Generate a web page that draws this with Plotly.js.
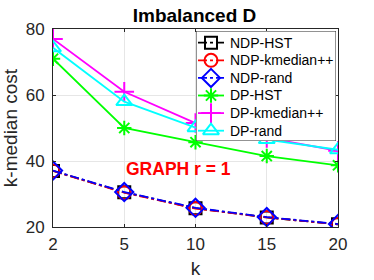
<!DOCTYPE html>
<html>
<head>
<meta charset="utf-8">
<script src="https://cdn.plot.ly/plotly-3.0.1.min.js"></script>
<style>html,body{margin:0;padding:0;background:#fff;}#chart{width:374px;height:280px;}</style>
</head>
<body>
<div id="chart"></div>
<script>
// Data
const kLabels = ['2', '5', '10', '15', '20'];
const ndpHst = [37.0, 30.5, 25.7, 22.9, 20.8];
const ndpKmedianpp = [37.0, 30.4, 25.6, 22.9, 20.8];
const ndpRand = [37.1, 30.6, 25.8, 23.0, 20.9];
const dpHst = [71.0, 50.0, 45.7, 41.5, 38.7];
const dpKmedianpp = [77.0, 61.0, 51.5, 47.0, 43.1];
const dpRand = [74.3, 58.0, 50.1, 46.5, 43.4];
const seriesNames = ['NDP-HST', 'NDP-kmedian++', 'NDP-rand', 'DP-HST', 'DP-kmedian++', 'DP-rand'];

const FONT = 'Liberation Sans, Arial, Helvetica, sans-serif';
const styles = [
  {c: '#000000', sym: 'square-open', dash: 'dashdot', size: 12},
  {c: '#ff0000', sym: 'circle-open', dash: 'dashdot', size: 13},
  {c: '#0000ff', sym: 'diamond-open', dash: 'dashdot', size: 14},
  {c: '#00ff00', sym: 'asterisk-open', dash: 'solid', size: 12},
  {c: '#ff00ff', sym: 'cross-thin-open', dash: 'solid', size: 14},
  {c: '#00ffff', sym: 'triangle-up-open', dash: 'solid', size: 14}
];
const values = [ndpHst, ndpKmedianpp, ndpRand, dpHst, dpKmedianpp, dpRand];

// Plot area geometry (pixels) used to place the hand-built legend box
const W = 374, H = 280, ML = 53, MR = 36, MT = 29, MB = 53;
const PW = W - ML - MR, PH = H - MT - MB;
const LG = {x0: 196, x1: 336, y0: 31, y1: 141, row0: 42.7, rowStep: 17.6, lineX0: 198, lineX1: 224, markX: 211, textX: 228};

const traces = values.map((v, i) => ({
  x: kLabels, y: v, name: seriesNames[i], type: 'scatter', mode: 'lines+markers',
  line: {color: styles[i].c, width: 1.8, dash: styles[i].dash},
  marker: {symbol: styles[i].sym, size: styles[i].size, color: styles[i].c, line: {color: styles[i].c, width: 2}},
  xaxis: 'x', yaxis: 'y', hoverinfo: 'skip'
}));

// legend box (on an overlay axis measured in pixels)
traces.push({
  x: [LG.x0, LG.x1, LG.x1, LG.x0, LG.x0], y: [LG.y0, LG.y0, LG.y1, LG.y1, LG.y0],
  xaxis: 'x2', yaxis: 'y2', type: 'scatter', mode: 'lines', fill: 'toself',
  fillcolor: '#ffffff', line: {color: '#262626', width: 1}, hoverinfo: 'skip', showlegend: false
});
const annotations = [];
seriesNames.forEach((name, i) => {
  const ry = LG.row0 + LG.rowStep * i;
  traces.push({
    x: [LG.lineX0, LG.lineX1], y: [ry, ry], xaxis: 'x2', yaxis: 'y2', type: 'scatter', mode: 'lines',
    line: {color: styles[i].c, width: 1.8, dash: styles[i].dash}, hoverinfo: 'skip', showlegend: false
  });
  traces.push({
    x: [LG.markX], y: [ry], xaxis: 'x2', yaxis: 'y2', type: 'scatter', mode: 'markers',
    marker: {symbol: styles[i].sym, size: styles[i].size, color: styles[i].c, line: {color: styles[i].c, width: 2}},
    hoverinfo: 'skip', showlegend: false
  });
  annotations.push({
    text: name, xref: 'x2', yref: 'y2', x: LG.textX, y: ry, xanchor: 'left', yanchor: 'middle',
    showarrow: false, font: {family: FONT, size: 14, color: '#000'}
  });
});

annotations.push({
  text: '<b>GRAPH r = 1</b>', xref: 'paper', yref: 'paper', x: 0.439, y: 0.293,
  xanchor: 'center', yanchor: 'middle',
  showarrow: false, font: {family: FONT, size: 17.5, color: '#ff0000'}
});

const axisCommon = {
  showgrid: true, gridcolor: '#e6e6e6', gridwidth: 1,
  showline: true, linecolor: '#262626', linewidth: 1, mirror: 'ticks',
  ticks: 'inside', ticklen: 3, tickcolor: '#262626',
  tickfont: {family: FONT, size: 17, color: '#262626'},
  zeroline: false
};

const layout = {
  width: W, height: H,
  margin: {l: ML, r: MR, t: MT, b: MB},
  paper_bgcolor: '#ffffff', plot_bgcolor: '#ffffff',
  title: {text: '<b>Imbalanced D</b>', font: {family: FONT, size: 19, color: '#000'}, x: 0.52, xanchor: 'center', y: 0.945, yanchor: 'middle'},
  xaxis: Object.assign({}, axisCommon, {
    type: 'category', categoryorder: 'array', categoryarray: kLabels, range: [0, 4],
    ticklabelstandoff: 2,
    title: {text: 'k', font: {family: FONT, size: 19, color: '#262626'}, standoff: 8}
  }),
  yaxis: Object.assign({}, axisCommon, {
    range: [20, 80], tickvals: [20, 40, 60, 80], ticklabelstandoff: 4,
    title: {text: 'k-median cost', font: {family: FONT, size: 19, color: '#262626'}, standoff: 6}
  }),
  xaxis2: {domain: [(LG.x0 - ML) / PW, (LG.x1 - ML) / PW], range: [LG.x0, LG.x1], anchor: 'y2',
    visible: false, showgrid: false, zeroline: false, fixedrange: true},
  yaxis2: {domain: [(H - MB - LG.y1) / PH, (H - MB - LG.y0) / PH], range: [LG.y1, LG.y0], anchor: 'x2',
    visible: false, showgrid: false, zeroline: false, fixedrange: true},
  annotations: annotations,
  showlegend: false
};

Plotly.newPlot('chart', traces, layout, {displayModeBar: false, staticPlot: true});
</script>
</body>
</html>
